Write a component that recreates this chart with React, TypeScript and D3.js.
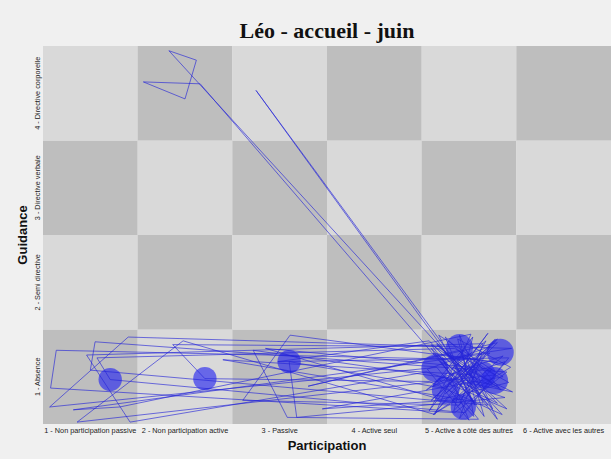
import React from "react";
import * as d3 from "d3";

const title = "Léo - accueil - juin";
const participationLabels = [
  "1 - Non participation passive",
  "2 - Non participation active",
  "3 - Passive",
  "4 - Active seul",
  "5 - Active à côté des autres",
  "6 - Active avec les autres",
];
const guidanceLabels = [
  "1 - Absence",
  "2 - Semi directive",
  "3 - Directive verbale",
  "4 - Directive corporelle",
];

// trajectory (participation, guidance) with in-cell jitter
const pathX = [
  4.95, 5.3, 4.6, 5.1, 0.64, 0.58, 4.85, 5.4, 1.05, 1.0, 5.2, 4.7, 1.87, 2.21, 4.58, 5.35,
  1.83, 2.12, 2.0, 1.56, 2.16, 5.0, 4.75, 5.25, 2.72, 3.08, 5.1, 4.66, 0.57, 1.4, 5.45, 4.8,
  2.75, 5.05, 4.62, 5.3, 3.11, 2.61, 4.9, 5.15, 0.96, 1.42, 4.55, 5.38, 3.18, 3.1, 4.72, 5.22,
  0.82, 1.31, 5.02, 4.64, 1.98, 0.86, 5.28, 4.85, 1.07, 1.21, 4.96, 5.42, 2.98, 4.58, 5.12, 4.78,
  4.6, 5.25, 4.9, 5.05, 4.68, 5.36, 4.82, 5.18, 4.55, 5.0, 5.3, 4.74, 5.12, 4.62, 5.44, 4.88,
  5.08, 4.7, 5.34, 4.95, 4.58, 5.2, 4.8, 5.4, 4.66, 5.02, 2.4, 5.15, 4.9, 3.3, 5.3, 4.75,
  5.1, 4.64, 5.28, 4.86, 5.46, 4.72, 5.0, 4.56, 5.22, 4.92, 3.45, 5.36, 4.68, 5.06, 4.8, 5.32,
  4.6, 5.16, 4.98, 5.42, 4.7, 2.85, 5.24, 4.84, 5.04, 4.62, 5.38, 4.9, 5.14, 4.76, 5.3, 4.66,
];
const pathY = [
  1.0, 1.4, 0.75, 1.18, 1.28, 0.88, 0.62, 1.05, 1.37, 1.07, 0.7, 1.32, 1.34, 0.98, 0.95, 0.6,
  4.45, 4.35, 3.94, 4.12, 4.1, 0.8, 1.42, 0.92, 1.28, 0.57, 0.55, 1.1, 0.68, 1.42, 1.3, 1.2,
  4.03, 0.9, 1.25, 1.15, 1.44, 0.75, 0.7, 1.35, 1.23, 0.52, 1.05, 0.78, 0.57, 1.16, 0.88, 1.25,
  0.65, 0.68, 1.45, 0.6, 1.38, 0.52, 1.02, 1.3, 1.2, 0.97, 0.62, 1.2, 1.16, 1.38, 0.82, 1.05,
  1.3, 0.66, 1.44, 0.58, 0.98, 1.22, 0.74, 1.38, 0.86, 1.12, 0.55, 1.26, 0.94, 0.6, 1.1, 1.4,
  0.7, 1.16, 0.86, 1.3, 0.64, 1.46, 0.92, 0.66, 1.34, 1.02, 1.18, 0.72, 1.28, 0.9, 1.36, 0.82,
  1.12, 0.62, 1.4, 0.96, 0.84, 1.2, 0.54, 1.08, 1.32, 0.76, 0.66, 1.0, 1.44, 0.7, 1.24, 0.88,
  1.34, 0.58, 1.18, 0.94, 0.76, 1.3, 1.08, 0.64, 1.42, 0.9, 1.16, 0.56, 1.26, 0.98, 0.72, 1.36,
];

// circles (repeated positions)
const circleX = [1.21, 2.21, 3.1, 4.9, 5.33, 4.64, 5.14, 5.27, 4.75, 4.94];
const circleY = [0.97, 0.98, 1.16, 1.31, 1.26, 1.09, 1.02, 0.96, 0.86, 0.68];
const circleCount = [3, 3, 3, 4, 4, 4, 4, 4, 4, 3.5];

const W = 611;
const H = 459;

export default function App() {
  const x = d3.scaleLinear().domain([0.5, 6.5]).range([43, 611]);
  const y = d3.scaleLinear().domain([0.5, 4.5]).range([424, 46]);
  const r = d3.scaleSqrt().domain([0, 4]).range([0, 13.5]);
  const pts: [number, number][] = pathX.map((v, i) => [x(v), y(pathY[i])]);
  const line = d3.line();
  const cells: { i: number; j: number }[] = [];
  participationLabels.forEach((_, i) =>
    guidanceLabels.forEach((_, j) => cells.push({ i, j }))
  );
  const sans = "'Liberation Sans', Arial, sans-serif";
  return (
    <svg
      width={W}
      height={H}
      style={{ position: "absolute", left: 0, top: 0, background: "#f0f0f0" }}
    >
      <rect x={0} y={0} width={W} height={H} fill="#f0f0f0" />
      <text
        x={(x(0.5) + x(6.5)) / 2}
        y={38}
        textAnchor="middle"
        fontFamily="'Liberation Serif', 'Times New Roman', serif"
        fontWeight="bold"
        fontSize={22}
        fill="#111"
      >
        {title}
      </text>
      {cells.map(({ i, j }) => (
        <rect
          key={`${i}-${j}`}
          x={x(i + 0.5)}
          y={y(j + 1.5)}
          width={x(i + 1.5) - x(i + 0.5)}
          height={y(j + 0.5) - y(j + 1.5)}
          fill={(i + j) % 2 === 0 ? "#bebebe" : "#d9d9d9"}
        />
      ))}
      {circleX.map((cx, k) => (
        <circle
          key={k}
          cx={x(cx)}
          cy={y(circleY[k])}
          r={r(circleCount[k])}
          fill="#2a2af0"
          fillOpacity={0.65}
        />
      ))}
      <path
        d={line(pts) || ""}
        fill="none"
        stroke="#2424d8"
        strokeWidth={0.75}
        strokeOpacity={0.85}
        strokeLinejoin="round"
      />
      {participationLabels.map((t, i) => (
        <text
          key={t}
          x={x(i + 1)}
          y={433}
          textAnchor="middle"
          fontFamily={sans}
          fontSize={7.3}
          fill="#222"
        >
          {t}
        </text>
      ))}
      {guidanceLabels.map((t, j) => (
        <text
          key={t}
          transform={`translate(40,${y(j + 1)}) rotate(-90)`}
          textAnchor="middle"
          fontFamily={sans}
          fontSize={7.3}
          fill="#222"
        >
          {t}
        </text>
      ))}
      <text
        x={(x(0.5) + x(6.5)) / 2}
        y={450}
        textAnchor="middle"
        fontFamily={sans}
        fontWeight="bold"
        fontSize={13}
        fill="#111"
      >
        Participation
      </text>
      <text
        transform={`translate(27,${(y(0.5) + y(4.5)) / 2}) rotate(-90)`}
        textAnchor="middle"
        fontFamily={sans}
        fontWeight="bold"
        fontSize={13}
        fill="#111"
      >
        Guidance
      </text>
    </svg>
  );
}
